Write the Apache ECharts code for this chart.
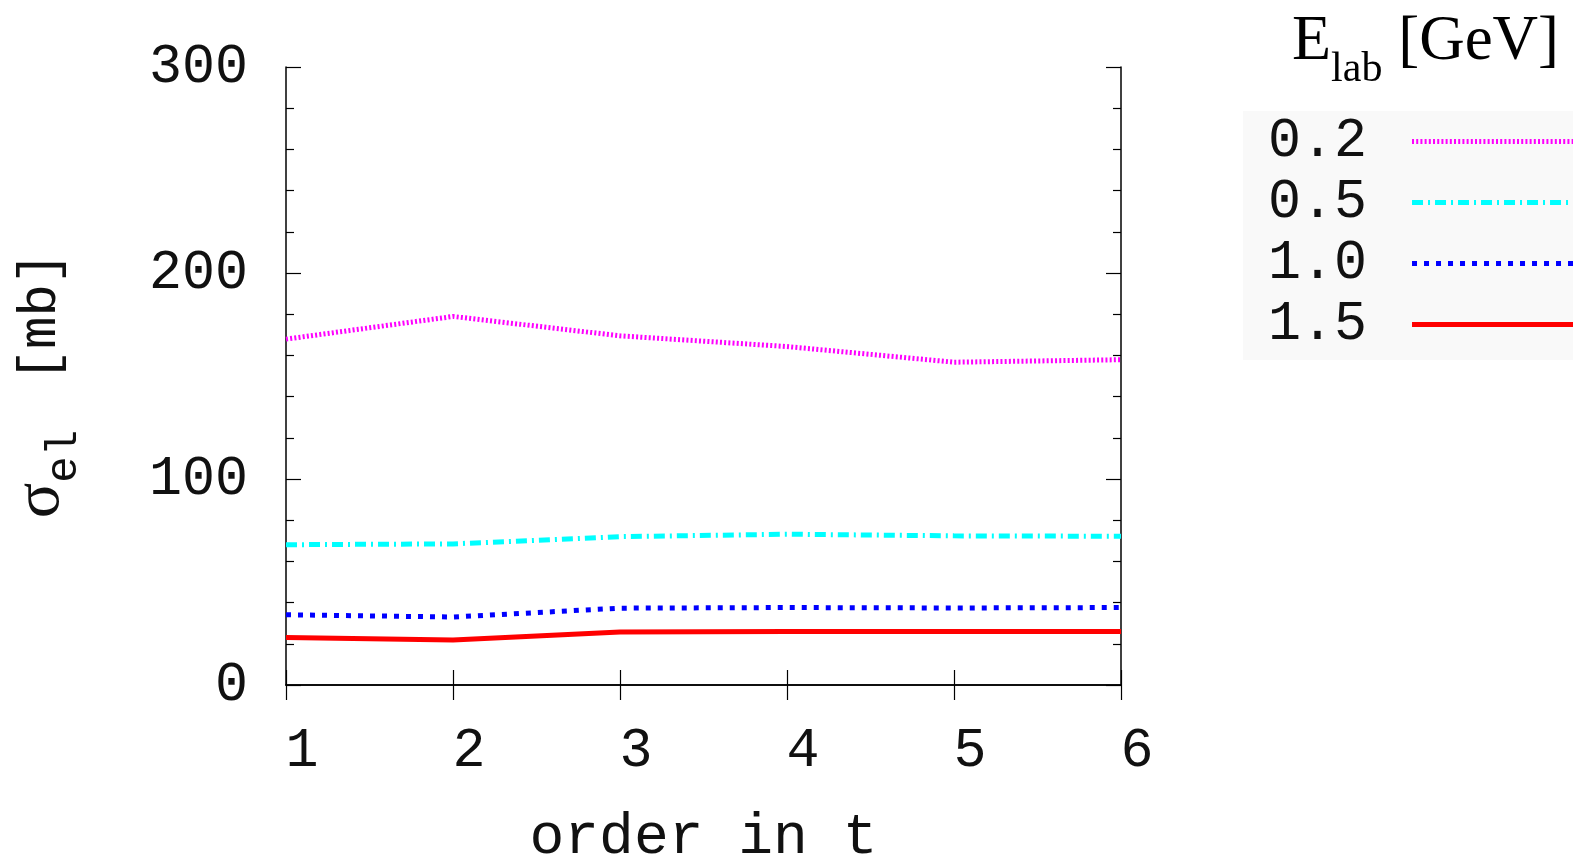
<!DOCTYPE html>
<html>
<head>
<meta charset="utf-8">
<script src="https://cdn.jsdelivr.net/npm/echarts@6/dist/echarts.min.js"></script>
<style>
  html, body { margin: 0; padding: 0; background: #fff; }
  #chart { width: 1573px; height: 859px; }
</style>
</head>
<body>
<div id="chart"></div>
<script>
// order in t
const orders = [1, 2, 3, 4, 5, 6]
// E_lab [GeV]
const energies = ['0.2', '0.5', '1.0', '1.5']
// sigma_el [mb] per energy
const sig02 = [167.9, 178.9, 169.5, 164.3, 156.7, 157.9]
const sig05 = [68.1, 68.5, 72.0, 73.2, 72.4, 72.2]
const sig10 = [34.1, 33.0, 37.3, 37.6, 37.4, 37.6]
const sig15 = [23.1, 21.9, 25.7, 26.0, 26.0, 26.0]
const yTicks = [0, 100, 200, 300]

const chart = echarts.init(document.getElementById('chart'))

const mono = 'Liberation Mono'
const serif = 'Liberation Serif'

const pair = (vals) => orders.map((o, i) => [o, vals[i]])

const mkSeries = (name, vals, color, dash, width) => ({
  name: name,
  type: 'line',
  data: pair(vals),
  symbol: 'none',
  lineStyle: { color: color, width: width, type: dash },
  itemStyle: { color: color },
  z: 3
})

const option = {
  animation: false,
  title: {
    left: 1287,
    top: 2,
    text: '{e|E}{sub|lab}{g| [GeV]}',
    textStyle: {
      rich: {
        e: { fontFamily: serif, fontWeight: 'normal', fontSize: 64, lineHeight: 70, color: '#000' },
        sub: { fontFamily: serif, fontWeight: 'normal', fontSize: 42, lineHeight: 42, color: '#000', verticalAlign: 'bottom', padding: [0, 0, -14, 0] },
        g: { fontFamily: serif, fontWeight: 'normal', fontSize: 63, lineHeight: 70, color: '#000' }
      }
    }
  },
  legend: {
    orient: 'vertical',
    left: 1243,
    top: 111,
    align: 'right',
    itemWidth: 200,
    itemHeight: 30,
    itemGap: 6,
    backgroundColor: '#f9f9f9',
    padding: [3, 0, 8, 25],
    lineStyle: { width: 5 },
    itemStyle: { opacity: 0 },
    textStyle: { fontFamily: mono, fontSize: 55, color: '#111', padding: [0, 40, 0, 0] },
    data: energies
  },
  grid: { left: 286, right: 452, top: 67, bottom: 174, outerBoundsMode: 'none' },
  xAxis: [
    {
      type: 'value',
      min: 1,
      max: 6,
      interval: 1,
      name: 'order in t',
      nameLocation: 'middle',
      nameGap: 124,
      nameTextStyle: { fontFamily: mono, fontSize: 58, color: '#111' },
      axisLine: { lineStyle: { color: '#000', width: 1.5 } },
      axisTick: { inside: true, length: 15, lineStyle: { color: '#000', width: 1.2 } },
      axisLabel: { fontFamily: mono, fontSize: 55, color: '#111', margin: 39, padding: [0, 0, 0, 32] },
      splitLine: { show: false }
    },
    {
      type: 'value',
      position: 'top',
      min: 1,
      max: 6,
      interval: 1,
      axisLine: { lineStyle: { color: '#000', width: 1.5 } },
      axisTick: { inside: true, length: 15, lineStyle: { color: '#000', width: 1.2 } },
      axisLabel: { show: false },
      splitLine: { show: false }
    }
  ],
  yAxis: [
    {
      type: 'value',
      min: yTicks[0],
      max: yTicks[yTicks.length - 1],
      interval: 100,
      name: '{s|σ}{sub|el}{u| [mb]}',
      nameLocation: 'middle',
      nameRotate: 90,
      nameGap: 210,
      nameTextStyle: {
        rich: {
          s: { fontFamily: serif, fontSize: 66, lineHeight: 70, color: '#111' },
          sub: { fontFamily: mono, fontSize: 44, lineHeight: 44, color: '#111', verticalAlign: 'bottom', padding: [0, 0, -10, 0] },
          u: { fontFamily: mono, fontSize: 54, lineHeight: 70, color: '#111', padding: [0, 18, 0, 16] }
        }
      },
      axisLine: { lineStyle: { color: '#000', width: 1.5 } },
      axisTick: { inside: true, length: 15, lineStyle: { color: '#000', width: 1.2 } },
      minorTick: { show: true, splitNumber: 5, length: 8, lineStyle: { color: '#000', width: 1.2 } },
      axisLabel: { fontFamily: mono, fontSize: 55, color: '#111', margin: 38 },
      splitLine: { show: false }
    },
    {
      type: 'value',
      position: 'right',
      min: yTicks[0],
      max: yTicks[yTicks.length - 1],
      interval: 100,
      axisLine: { lineStyle: { color: '#000', width: 1.5 } },
      axisTick: { inside: true, length: 15, lineStyle: { color: '#000', width: 1.2 } },
      minorTick: { show: true, splitNumber: 5, length: 8, lineStyle: { color: '#000', width: 1.2 } },
      axisLabel: { show: false },
      splitLine: { show: false }
    }
  ],
  series: [
    mkSeries('0.2', sig02, '#ff00ff', [2, 2.2], 5),
    mkSeries('0.5', sig05, '#00ffff', [11, 5, 2, 5], 5),
    mkSeries('1.0', sig10, '#0000ff', [5, 7], 5),
    mkSeries('1.5', sig15, '#ff0000', 'solid', 5)
  ]
}

chart.setOption(option)
window.addEventListener('resize', () => chart.resize())
</script>
</body>
</html>
